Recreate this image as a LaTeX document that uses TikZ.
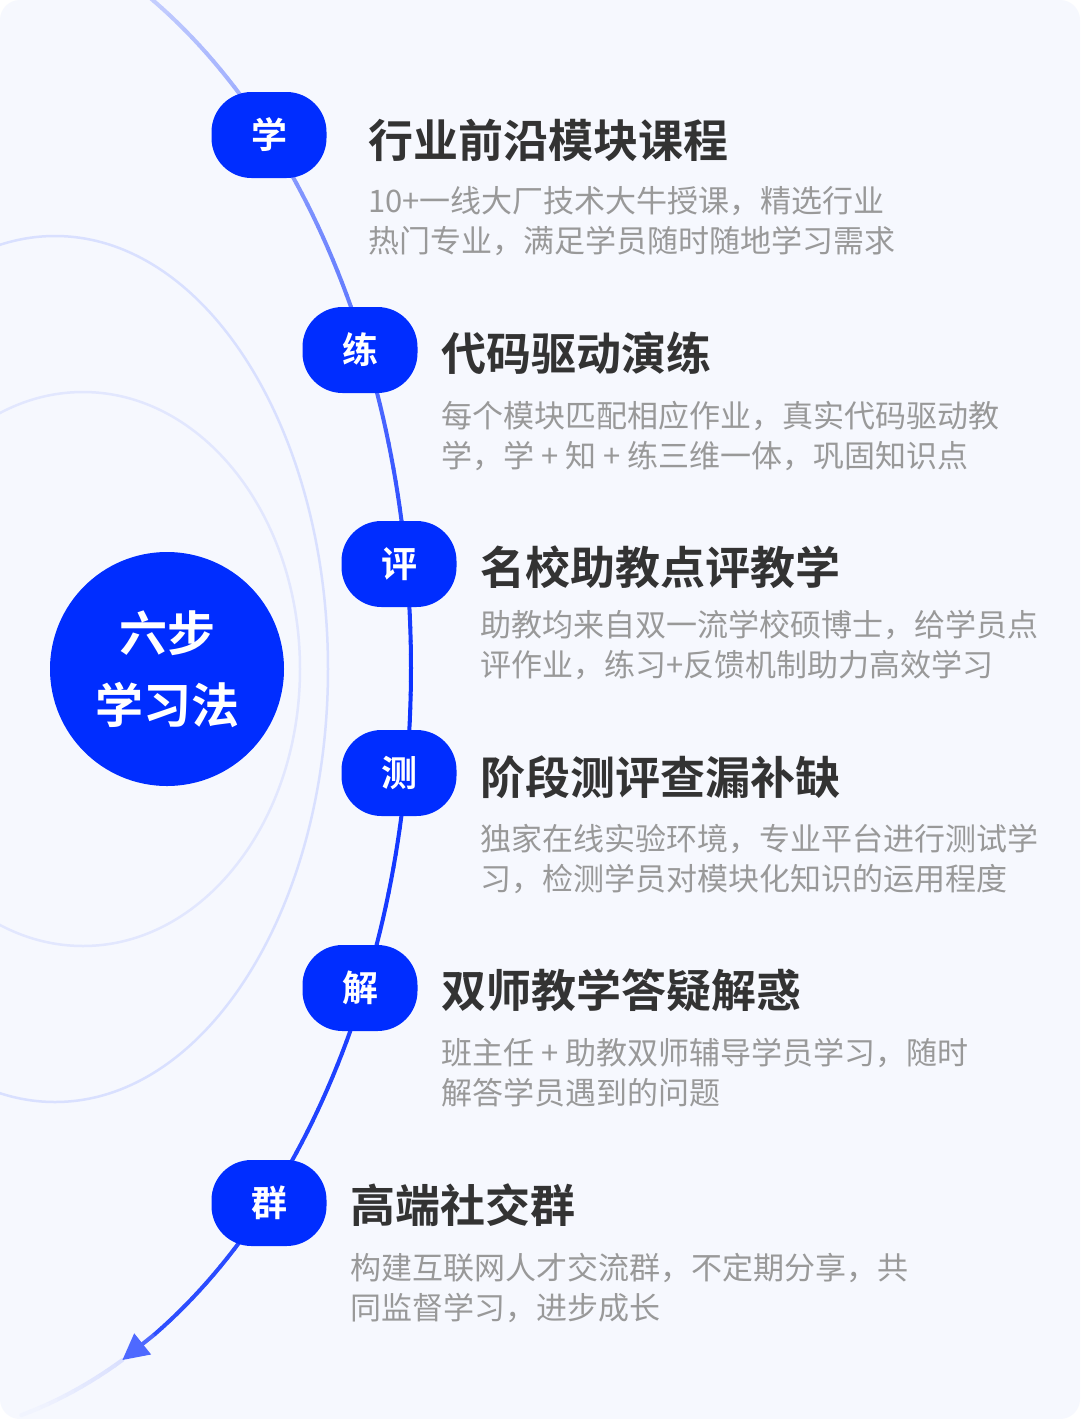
\documentclass[tikz,border=0pt]{standalone}
\usepackage{fontspec}
\setmainfont{Noto Sans CJK SC}[BoldFont={Noto Sans CJK SC Bold}]
\usepackage{tikz}
\usetikzlibrary{arrows.meta}
\definecolor{bgcol}{RGB}{246,248,254}
\definecolor{stepblue}{RGB}{0,45,255}
\definecolor{arcblue}{RGB}{12,50,255}
\definecolor{headgray}{RGB}{51,51,51}
\definecolor{descgray}{RGB}{153,153,153}
\definecolor{ringblue}{RGB}{212,220,255}
\tikzstyle{badge} = [rectangle, rounded corners=40pt, fill=stepblue, text=white,
    minimum width=115pt, minimum height=86pt, inner sep=0pt,
    font=\fontsize{36pt}{40pt}\selectfont\bfseries]
\tikzstyle{hub} = [circle, fill=stepblue, text=white, minimum size=234pt,
    align=center, font=\fontsize{48pt}{72pt}\selectfont\bfseries]
\tikzstyle{headline} = [anchor=west, inner sep=0pt, text=headgray,
    font=\fontsize{45pt}{54pt}\selectfont\bfseries]
\tikzstyle{desc} = [anchor=west, inner sep=0pt, align=left, text=descgray,
    font=\fontsize{31pt}{40pt}\selectfont]
\tikzstyle{ring} = [line width=2.5pt]
\tikzstyle{guide} = [line width=4pt, line cap=round]
\begin{document}
\begin{tikzpicture}[x=1pt, y=-1pt]
  \useasboundingbox (0,0) rectangle (1080,1419);
  % Card
  \fill[white] (0,0) rectangle (1080,1419);
  \fill[bgcol, rounded corners=20pt] (0,0) rectangle (1080,1419);
  % Rings
  \begin{scope}
    \clip[rounded corners=20pt] (0,0) rectangle (1080,1419);
    \draw[ring, ringblue!60!bgcol] (83,669) ellipse [x radius=217pt, y radius=277pt];
    \draw[ring, ringblue!85!bgcol] (55,669) ellipse [x radius=273pt, y radius=433pt];
  \end{scope}
  % Guide curve
  \foreach \t in {62,61,...,-59} {
    \pgfmathsetmacro{\p}{\t>0 ? 100-1.3*\t : 100+0.25*\t}
    \draw[guide, arcblue!\p!bgcol] ({-103+514*cos(\t)},{668-770*sin(\t)})
      -- ({-103+514*cos(\t-1)},{668-770*sin(\t-1)});
  }
  \foreach \t in {-64,-65,...,-75} {
    \pgfmathsetmacro{\p}{max(2,12-(-64-\t))}
    \draw[guide, arcblue!\p!bgcol] ({-103+514*cos(\t)},{668-770*sin(\t)})
      -- ({-103+514*cos(\t-1)},{668-770*sin(\t-1)});
  }
  \coordinate (arrowfrom) at ({-103+514*cos(-60)},{668-770*sin(-60)});
  \coordinate (arrowtip) at ({-103+514*cos(-64)},{668-770*sin(-64)});
  \draw[guide, arcblue!72!bgcol, line cap=butt,
    -{Triangle[length=26pt, width=26pt]}] (arrowfrom) -- (arrowtip);
  % Hub
  \node[hub] (six) at (167,669) {六步\\学习法};
  % Place nodes
  \node[badge] (xue) at (269,135) {学};
  \node[badge] (lian) at (360,350) {练};
  \node[badge] (ping) at (399,564) {评};
  \node[badge] (ce) at (399,773) {测};
  \node[badge] (jie) at (360,988) {解};
  \node[badge] (qun) at (269,1203) {群};
  % Texts
  \node[headline] (xuehead) at (368,140) {行业前沿模块课程};
  \node[desc] (xuetext) at (368,221.5) {10+一线大厂技术大牛授课，精选行业\\热门专业，满足学员随时随地学习需求};
  \node[headline] (lianhead) at (441,353) {代码驱动演练};
  \node[desc] (liantext) at (441,436) {每个模块匹配相应作业，真实代码驱动教\\学，学 + 知 + 练三维一体，巩固知识点};
  \node[headline] (pinghead) at (480,567) {名校助教点评教学};
  \node[desc] (pingtext) at (480,644.5) {助教均来自双一流学校硕博士，给学员点\\评作业，练习+反馈机制助力高效学习};
  \node[headline] (cehead) at (480,777) {阶段测评查漏补缺};
  \node[desc] (cetext) at (480,858.5) {独家在线实验环境，专业平台进行测试学\\习，检测学员对模块化知识的运用程度};
  \node[headline] (jiehead) at (441,990) {双师教学答疑解惑};
  \node[desc] (jietext) at (441,1073) {班主任 + 助教双师辅导学员学习，随时\\解答学员遇到的问题};
  \node[headline] (qunhead) at (350,1205) {高端社交群};
  \node[desc] (quntext) at (350,1288) {构建互联网人才交流群，不定期分享，共\\同监督学习，进步成长};
\end{tikzpicture}
\end{document}
